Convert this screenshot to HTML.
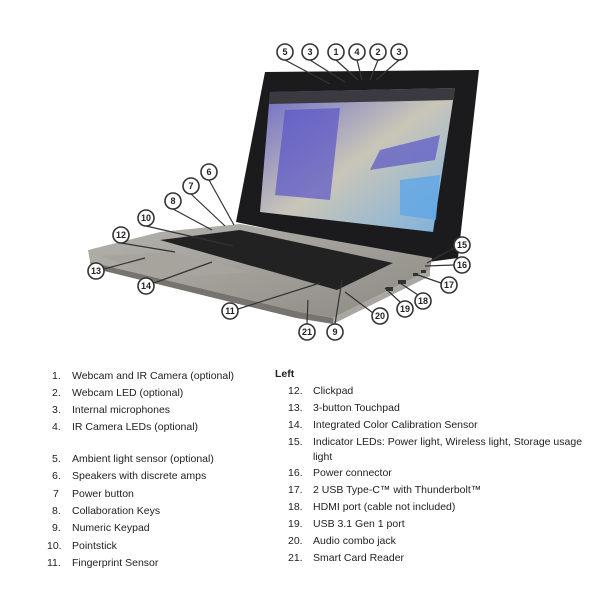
<!DOCTYPE html>
<html><head><meta charset="utf-8"><style>
body{margin:0;width:600px;height:600px;background:#fff;overflow:hidden;font-family:"Liberation Sans",sans-serif;}
.t{position:absolute;font-size:10.5px;color:#222;white-space:nowrap}
</style></head><body>
<svg width="600" height="600" style="position:absolute;left:0;top:0">
<defs>
<linearGradient id="base" x1="0" y1="0" x2="1" y2="1"><stop offset="0" stop-color="#b5b3ad"/><stop offset="1" stop-color="#8d8a84"/></linearGradient>
<linearGradient id="scr" x1="0" y1="0" x2="1" y2="1"><stop offset="0" stop-color="#6a68c8"/><stop offset="0.5" stop-color="#c9c6b8"/><stop offset="1" stop-color="#7ab0e0"/></linearGradient>
</defs>
<!-- lid -->
<polygon points="265,72 479,70 458,258 428,262 236,222" fill="#1b1b1d"/>
<polygon points="270,92 455,88 433,232 260,212" fill="url(#scr)"/>
<polygon points="270,92 455,88 454,100 269,104" fill="#3a3a40"/>
<polygon points="285,110 340,108 330,200 275,195" fill="#5a55c8" opacity="0.7"/>
<polygon points="380,150 440,135 435,160 370,170" fill="#5a55c8" opacity="0.7"/>
<polygon points="400,180 440,175 436,220 400,215" fill="#5fa6e6" opacity="0.8"/>
<!-- base -->
<polygon points="160,232 240,224 432,258 430,270 333,318 300,312 90,262 88,250" fill="url(#base)"/>
<polygon points="90,262 300,312 333,318 333,324 296,318 92,268" fill="#77746f"/>
<polygon points="333,318 430,270 430,276 333,324" fill="#a9a7a2"/>
<polygon points="160,240 240,230 393,263 337,290" fill="#222"/>
<polygon points="100,256 170,252 250,272 165,278" fill="#a7a49e"/>
<g fill="#333"><rect x="386" y="287" width="7" height="4"/><rect x="398" y="280" width="8" height="4"/><rect x="413" y="273" width="5" height="3"/><rect x="421" y="270" width="5" height="3"/></g>
<g stroke="#333" stroke-width="1.2" fill="#fff">
<line x1="285" y1="60" x2="330" y2="84"/><line x1="310" y1="60" x2="345" y2="82"/><line x1="336" y1="60" x2="358" y2="80"/><line x1="357" y1="60" x2="362" y2="80"/><line x1="378" y1="60" x2="370" y2="80"/><line x1="399" y1="60" x2="376" y2="80"/>
<line x1="209" y1="180" x2="234" y2="225"/><line x1="191" y1="194" x2="225" y2="226"/><line x1="173" y1="209" x2="212" y2="230"/><line x1="146" y1="226" x2="233" y2="246"/><line x1="121" y1="243" x2="175" y2="252"/><line x1="104" y1="269" x2="145" y2="258"/><line x1="154" y1="283" x2="212" y2="262"/><line x1="238" y1="309" x2="320" y2="283"/><line x1="307" y1="324" x2="243" y2="289" style="display:none"/><line x1="307" y1="324" x2="308" y2="300"/><line x1="335" y1="324" x2="342" y2="280"/><line x1="373" y1="313" x2="345" y2="292"/><line x1="400" y1="302" x2="385" y2="288"/><line x1="418" y1="295" x2="400" y2="283"/><line x1="441" y1="283" x2="415" y2="274"/><line x1="454" y1="265" x2="425" y2="266"/><line x1="454" y1="248" x2="427" y2="263"/>
</g>
<g stroke="#333" stroke-width="1.6" fill="#fff" font-family="Liberation Sans,sans-serif" font-size="9" font-weight="bold" text-anchor="middle">
<g><circle cx="285" cy="52" r="8"/><circle cx="310" cy="52" r="8"/><circle cx="336" cy="52" r="8"/><circle cx="357" cy="52" r="8"/><circle cx="378" cy="52" r="8"/><circle cx="399" cy="52" r="8"/>
<circle cx="209" cy="172" r="8"/><circle cx="191" cy="186" r="8"/><circle cx="173" cy="201" r="8"/><circle cx="146" cy="218" r="8"/><circle cx="121" cy="235" r="8"/><circle cx="96" cy="271" r="8"/><circle cx="146" cy="286" r="8"/><circle cx="230" cy="311" r="8"/><circle cx="307" cy="332" r="8"/><circle cx="335" cy="332" r="8"/><circle cx="380" cy="316" r="8"/><circle cx="405" cy="309" r="8"/><circle cx="423" cy="301" r="8"/><circle cx="449" cy="285" r="8"/><circle cx="462" cy="265" r="8"/><circle cx="462" cy="245" r="8"/></g>
<g stroke="none" fill="#222">
<text x="285" y="55">5</text><text x="310" y="55">3</text><text x="336" y="55">1</text><text x="357" y="55">4</text><text x="378" y="55">2</text><text x="399" y="55">3</text>
<text x="209" y="175">6</text><text x="191" y="189">7</text><text x="173" y="204">8</text><text x="146" y="221">10</text><text x="121" y="238">12</text><text x="96" y="274">13</text><text x="146" y="289">14</text><text x="230" y="314">11</text><text x="307" y="335">21</text><text x="335" y="335">9</text><text x="380" y="319">20</text><text x="405" y="312">19</text><text x="423" y="304">18</text><text x="449" y="288">17</text><text x="462" y="268">16</text><text x="462" y="248">15</text>
</g></g>
</svg>
<div class="t" style="left:52px;top:370px">1.</div><div class="t" style="left:72px;top:370px">Webcam and IR Camera (optional)</div>
<div class="t" style="left:52px;top:387px">2.</div><div class="t" style="left:72px;top:387px">Webcam LED (optional)</div>
<div class="t" style="left:52px;top:404px">3.</div><div class="t" style="left:72px;top:404px">Internal microphones</div>
<div class="t" style="left:52px;top:421px">4.</div><div class="t" style="left:72px;top:421px">IR Camera LEDs (optional)</div>
<div class="t" style="left:52px;top:453px">5.</div><div class="t" style="left:72px;top:453px">Ambient light sensor (optional)</div>
<div class="t" style="left:52px;top:470px">6.</div><div class="t" style="left:72px;top:470px">Speakers with discrete amps</div>
<div class="t" style="left:53px;top:488px">7</div><div class="t" style="left:72px;top:488px">Power button</div>
<div class="t" style="left:52px;top:505px">8.</div><div class="t" style="left:72px;top:505px">Collaboration Keys</div>
<div class="t" style="left:52px;top:522px">9.</div><div class="t" style="left:72px;top:522px">Numeric Keypad</div>
<div class="t" style="left:47px;top:540px">10.</div><div class="t" style="left:72px;top:540px">Pointstick</div>
<div class="t" style="left:47px;top:557px">11.</div><div class="t" style="left:72px;top:557px">Fingerprint Sensor</div>
<div class="t" style="left:275px;top:368px;font-weight:bold">Left</div>
<div class="t" style="left:288px;top:385px">12.</div><div class="t" style="left:313px;top:385px">Clickpad</div>
<div class="t" style="left:288px;top:402px">13.</div><div class="t" style="left:313px;top:402px">3-button Touchpad</div>
<div class="t" style="left:288px;top:419px">14.</div><div class="t" style="left:313px;top:419px">Integrated Color Calibration Sensor</div>
<div class="t" style="left:288px;top:436px">15.</div><div class="t" style="left:313px;top:436px">Indicator LEDs: Power light, Wireless light, Storage usage</div>
<div class="t" style="left:313px;top:451px">light</div>
<div class="t" style="left:288px;top:467px">16.</div><div class="t" style="left:313px;top:467px">Power connector</div>
<div class="t" style="left:288px;top:484px">17.</div><div class="t" style="left:313px;top:484px">2 USB Type-C™ with Thunderbolt™</div>
<div class="t" style="left:288px;top:501px">18.</div><div class="t" style="left:313px;top:501px">HDMI port (cable not included)</div>
<div class="t" style="left:288px;top:518px">19.</div><div class="t" style="left:313px;top:518px">USB 3.1 Gen 1 port</div>
<div class="t" style="left:288px;top:535px">20.</div><div class="t" style="left:313px;top:535px">Audio combo jack</div>
<div class="t" style="left:288px;top:552px">21.</div><div class="t" style="left:313px;top:552px">Smart Card Reader</div>
</body></html>
